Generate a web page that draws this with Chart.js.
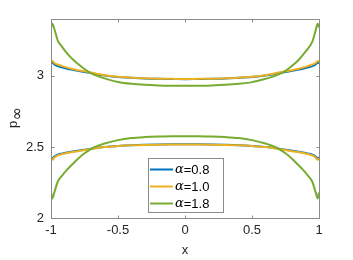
<!DOCTYPE html>
<html><head><meta charset="utf-8">
<script src="https://cdn.jsdelivr.net/npm/chart.js@4.4.0/dist/chart.umd.min.js"></script>
<style>html,body{margin:0;padding:0;background:#fff;}canvas{display:block;}</style>
</head><body>
<canvas id="c" width="353" height="260"></canvas>
<script>
const xs = [-1, -0.99, -0.975, -0.95, -0.92, -0.88, -0.84, -0.8, -0.75, -0.7, -0.65, -0.6, -0.5, -0.4, -0.3, -0.2, -0.1, 0,
            0.1, 0.2, 0.3, 0.4, 0.5, 0.6, 0.65, 0.7, 0.75, 0.8, 0.84, 0.88, 0.92, 0.95, 0.975, 0.99, 1];
const upper08 = [3.088, 3.092, 3.080, 3.068, 3.060, 3.050, 3.042, 3.035, 3.027, 3.020, 3.010, 3.003, 2.992, 2.986, 2.982, 2.979, 2.978, 2.977,
                 2.978, 2.979, 2.982, 2.986, 2.992, 3.003, 3.010, 3.020, 3.027, 3.035, 3.042, 3.050, 3.060, 3.068, 3.080, 3.092, 3.088];
const lower08 = [2.426, 2.420, 2.432, 2.446, 2.453, 2.461, 2.468, 2.474, 2.481, 2.488, 2.495, 2.500, 2.507, 2.512, 2.515, 2.517, 2.518, 2.518,
                 2.518, 2.517, 2.515, 2.512, 2.507, 2.500, 2.495, 2.488, 2.481, 2.474, 2.468, 2.461, 2.453, 2.446, 2.432, 2.420, 2.426];
const upper10 = [3.100, 3.105, 3.090, 3.080, 3.070, 3.058, 3.048, 3.040, 3.032, 3.024, 3.013, 3.005, 2.993, 2.987, 2.983, 2.980, 2.979, 2.978,
                 2.979, 2.980, 2.983, 2.987, 2.993, 3.005, 3.013, 3.024, 3.032, 3.040, 3.048, 3.058, 3.070, 3.080, 3.090, 3.105, 3.100];
const lower10 = [2.418, 2.410, 2.425, 2.440, 2.448, 2.457, 2.464, 2.470, 2.478, 2.486, 2.493, 2.499, 2.506, 2.511, 2.514, 2.516, 2.517, 2.517,
                 2.517, 2.516, 2.514, 2.511, 2.506, 2.499, 2.493, 2.486, 2.478, 2.470, 2.464, 2.457, 2.448, 2.440, 2.425, 2.410, 2.418];
const upper18 = [3.340, 3.366, 3.330, 3.250, 3.207, 3.158, 3.118, 3.085, 3.048, 3.018, 2.998, 2.982, 2.957, 2.944, 2.937, 2.933, 2.931, 2.930,
                 2.931, 2.933, 2.937, 2.944, 2.956, 2.979, 2.993, 3.010, 3.035, 3.072, 3.105, 3.148, 3.195, 3.240, 3.320, 3.366, 3.340];
const lower18 = [2.180, 2.137, 2.180, 2.255, 2.295, 2.340, 2.378, 2.415, 2.455, 2.487, 2.508, 2.524, 2.548, 2.562, 2.569, 2.573, 2.575, 2.576,
                 2.575, 2.573, 2.569, 2.562, 2.548, 2.524, 2.508, 2.487, 2.455, 2.415, 2.378, 2.340, 2.295, 2.255, 2.180, 2.137, 2.180];
const seriesLabels = ['0.8', '1.0', '1.8'];
const seriesColors = ['#0072BD', '#EDB120', '#77AC30'];
const xTicks = [-1, -0.5, 0, 0.5, 1];
const yTicks = [2, 2.5, 3];

const FONT = '"Liberation Sans", Arial, Helvetica, sans-serif';
const pts = arr => xs.map((x, i) => ({x: x, y: arr[i]}));
const mk = (arr, s) => ({
  data: pts(arr), borderColor: seriesColors[s], borderWidth: 2, pointRadius: 0,
  fill: false, cubicInterpolationMode: 'monotone', order: 3 - s
});

const decor = {
  id: 'decor',
  afterDraw(chart) {
    const ctx = chart.ctx, a = chart.chartArea;
    const xs_ = chart.scales.x, ys_ = chart.scales.y;
    const L = Math.round(a.left) + 0.5, R = Math.round(a.right) + 0.5;
    const T = Math.round(a.top) + 0.5, B = Math.round(a.bottom) + 0.5;
    ctx.save();
    ctx.lineWidth = 1;
    ctx.strokeStyle = '#8a8a8a';
    ctx.beginPath();
    ctx.moveTo(L, T); ctx.lineTo(R, T); ctx.lineTo(R, B); ctx.lineTo(L, B); ctx.closePath();
    ctx.stroke();
    ctx.beginPath();
    xTicks.forEach(v => {
      const px = Math.round(xs_.getPixelForValue(v)) + 0.5;
      ctx.moveTo(px, B); ctx.lineTo(px, B - 3);
      ctx.moveTo(px, T); ctx.lineTo(px, T + 3);
    });
    yTicks.forEach(v => {
      const py = Math.round(ys_.getPixelForValue(v)) + 0.5;
      ctx.moveTo(L, py); ctx.lineTo(L + 3, py);
      ctx.moveTo(R, py); ctx.lineTo(R - 3, py);
    });
    ctx.stroke();

    // axis titles
    ctx.fillStyle = '#262626';
    ctx.font = '13px ' + FONT;
    ctx.textAlign = 'center';
    ctx.textBaseline = 'alphabetic';
    ctx.fillText('x', (a.left + a.right) / 2, 254);
    ctx.save();
    ctx.translate(17, 128);
    ctx.rotate(-Math.PI / 2);
    ctx.textAlign = 'left';
    ctx.font = '13px ' + FONT;
    ctx.fillText('p', 0, 0);
    ctx.font = '16px "DejaVu Sans", sans-serif';
    ctx.fillText('\u221E', 7.5, 4.5);
    ctx.restore();

    // legend
    const bx = 148.5, by = 158.5, bw = 75, bh = 54;
    ctx.fillStyle = '#ffffff';
    ctx.fillRect(bx, by, bw, bh);
    ctx.strokeStyle = '#8a8a8a';
    ctx.lineWidth = 1;
    ctx.strokeRect(bx, by, bw, bh);
    const rows = [169.5, 186.5, 203.5];
    seriesLabels.forEach((lab, i) => {
      ctx.strokeStyle = seriesColors[i];
      ctx.lineWidth = 2;
      ctx.beginPath();
      ctx.moveTo(150, rows[i]); ctx.lineTo(173, rows[i]);
      ctx.stroke();
      ctx.fillStyle = '#000';
      ctx.textAlign = 'left';
      ctx.textBaseline = 'middle';
      ctx.font = 'italic 13px "DejaVu Serif", "Liberation Serif", serif';
      ctx.fillText('\u03B1', 175, rows[i] + 0.5);
      const w = ctx.measureText('\u03B1').width;
      ctx.font = '13px ' + FONT;
      ctx.fillText('=' + lab, 175 + w, rows[i] + 0.5);
    });
    ctx.restore();
  }
};

new Chart(document.getElementById('c'), {
  type: 'line',
  data: { datasets: [
    mk(upper08, 0), mk(lower08, 0),
    mk(upper10, 1), mk(lower10, 1),
    mk(upper18, 2), mk(lower18, 2)
  ]},
  options: {
    responsive: false, animation: false,
    layout: { padding: { left: 0, right: 34, top: 19, bottom: 0 } },
    plugins: { legend: { display: false }, tooltip: { enabled: false } },
    scales: {
      x: {
        type: 'linear', min: -1, max: 1,
        grid: { display: false, drawTicks: false }, border: { display: false },
        afterBuildTicks: s => { s.ticks = xTicks.map(v => ({value: v})); },
        afterFit: s => { s.height = 42; },
        ticks: { color: '#262626', font: { family: FONT, size: 13 }, padding: 5, maxRotation: 0,
                 callback: v => String(v) }
      },
      y: {
        type: 'linear', min: 2, max: 3.4,
        grid: { display: false, drawTicks: false }, border: { display: false },
        afterBuildTicks: s => { s.ticks = yTicks.map(v => ({value: v})); },
        afterFit: s => { s.width = 51; },
        ticks: { color: '#262626', font: { family: FONT, size: 13 }, padding: 7,
                 callback: v => String(v) }
      }
    }
  },
  plugins: [decor]
});
</script>
</body></html>
